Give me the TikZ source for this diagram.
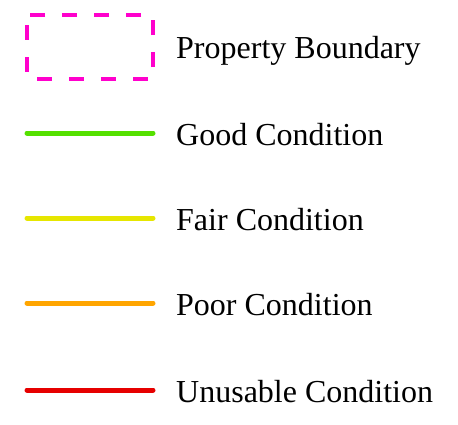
\documentclass[tikz,border=0pt]{standalone}
\usepackage{fontspec}
\setmainfont{Liberation Serif}
\definecolor{bnd}{HTML}{FF00CC}
\definecolor{good}{HTML}{55E000}
\definecolor{fair}{HTML}{E6E600}
\definecolor{poor}{HTML}{FFA500}
\definecolor{unus}{HTML}{E60000}
\begin{document}
\begin{tikzpicture}[x=1pt,y=-1pt,
  lbl/.style={anchor=base west,inner sep=0pt,font=\fontsize{32}{37}\selectfont},
  cond/.style={line width=5pt,line cap=round}]
\useasboundingbox (0,0) rectangle (458,424);
\draw[bnd,line width=4.5pt,dash pattern=on 15pt off 17pt,dash phase=-10pt] (27,15) rectangle (153,79);
\node[lbl] (t1) at (176,58) {Property Boundary};
\coordinate (g1) at (27,133); \coordinate (g2) at (153,133);
\draw[cond,good] (g1) -- (g2);
\node[lbl] (t2) at (176,145.5) {Good Condition};
\coordinate (f1) at (27,218); \coordinate (f2) at (153,218);
\draw[cond,fair] (f1) -- (f2);
\node[lbl] (t3) at (176,230.5) {Fair Condition};
\coordinate (p1) at (27,303); \coordinate (p2) at (153,303);
\draw[cond,poor] (p1) -- (p2);
\node[lbl] (t4) at (176,315.5) {Poor Condition};
\coordinate (u1) at (27,390); \coordinate (u2) at (153,390);
\draw[cond,unus] (u1) -- (u2);
\node[lbl] (t5) at (176,402.5) {Unusable Condition};
\end{tikzpicture}
\end{document}
